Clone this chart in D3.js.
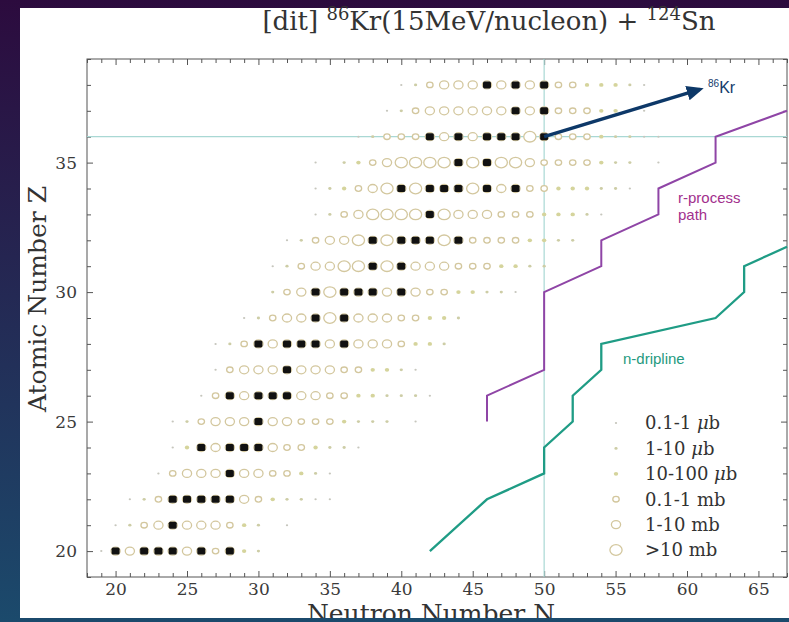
<!DOCTYPE html>
<meta charset="utf-8">
<style>
body { margin: 0; background: #1b4a6c; }
text { font-family: "DejaVu Serif", serif; fill: #333; }
.tick text { font-size: 17px; fill: #3a3a3a; }
.tick line { stroke: #555; }
.sans { font-family: "Liberation Sans", Arial, sans-serif; }
</style>
<body>
<script src="https://d3js.org/d3.v7.min.js"></script>
<script>

// ---- chart values ----
// one row of cross-section classes per Z, starting at firstN (null = no mark)
// class: 0 = 0.1-1 ub, 1 = 1-10 ub, 2 = 10-100 ub, 3 = 0.1-1 mb, 4 = 1-10 mb, 5 = >10 mb
var zValues = d3.range(20, 39);
var firstN = [19, 20, 21, 23, 24, 24, 26, 27, 27, 29, 31, 31, 32, 34, 34, 34, 37, 39, 40];
var xsClass = [
  [0,4,4,4,4,4,4,4,3,4,2,1],
  [0,1,3,4,4,4,4,4,3,2,1,null,0],
  [0,1,3,4,4,4,4,4,4,3,2,1,1,0,0],
  [0,3,4,4,4,4,4,4,3,3,2,1,0],
  [0,2,4,4,4,4,4,4,3,3,2,1,1,0],
  [0,1,3,4,4,4,4,4,4,3,3,3,2,1,1,1,null,0],
  [0,3,4,4,4,4,4,4,4,3,3,2,2,1,1,1,0],
  [0,3,4,4,4,4,4,4,4,3,3,2,2,1,0],
  [0,1,3,4,4,4,4,4,4,4,4,4,4,3,2,2,1],
  [0,1,3,4,4,4,5,4,4,4,4,3,3,2,2,1],
  [1,3,4,4,5,4,4,4,4,4,4,3,3,2,2,1,1,0],
  [0,1,3,4,4,5,5,4,5,4,4,4,4,3,3,3,2,2,1,1],
  [0,1,3,4,4,5,4,5,4,4,4,5,4,3,3,3,3,2,2,1,1],
  [0,1,3,4,5,5,5,5,4,5,4,4,4,3,3,3,2,2,2,1,0],
  [0,1,2,3,4,5,4,5,4,4,4,5,4,4,4,3,3,2,2,2,1,1,0],
  [0,null,1,2,3,4,5,5,5,5,4,5,4,5,5,4,3,3,3,3,2,1,1,null,0],
  [0,1,3,3,3,4,4,4,4,4,4,4,5,4,3,3,3,2,1,1,0,0],
  [0,1,3,4,4,4,4,4,4,4,4,4,3,3,3,2,2,1,0],
  [0,1,3,4,4,4,4,4,4,4,4,3,3,2,2,2,1,0]
];
// stable isotopes (black squares), neutron numbers per Z
var stableN = [
  [20,22,23,24,26,28], [24], [24,25,26,27,28], [28], [26,28,29,30], [30],
  [28,30,31,32], [32], [30,32,33,34,36], [34,36], [34,36,37,38,40], [38,40],
  [38,40,41,42,44], [42], [40,42,43,44,46,48], [44,46], [42,44,46,47,48,50],
  [48,50], [46,48,50]
];
var legendLabels = ["0.1-1 ", "1-10 ", "10-100 ", "0.1-1 mb", "1-10 mb", ">10 mb"];
var rProcess = [[46,25],[46,26],[50,27],[50,30],[54,31],[54,32],[58,33],[58,34],[62,35],[62,36],[67,37]];
var dripline = [[42,20],[46,22],[50,23],[50,24],[52,25],[52,26],[54,27],[54,28],[62,29],[64,30],[64,31],[67,31.75]];
var kr86 = [50, 36];
var arrowTip = [60.9, 37.83];
var magicN = 50, krZ = 36;

// ---- marker styles ----
var markR = [1, 1.4, 1.9, 2.8, 4, 5.3];
var markFill = ["#c6c6bd", "#cdcda6", "#d5d49c", "#fff", "#fff", "#fff"];
var ringColor = "#d3c79e";

var W = 789, H = 622;
var svg = d3.select("body").append("svg").attr("width", W).attr("height", H);
var defs = svg.append("defs");

// slide background
var grad = defs.append("linearGradient").attr("id", "bg")
    .attr("gradientUnits", "userSpaceOnUse")
    .attr("x1", 0).attr("y1", 0).attr("x2", 0).attr("y2", H);
grad.append("stop").attr("offset", "0%").attr("stop-color", "#2c0b3e");
grad.append("stop").attr("offset", "100%").attr("stop-color", "#1b4a6c");
svg.append("rect").attr("width", W).attr("height", H).attr("fill", "url(#bg)");
svg.append("rect").attr("x", 20).attr("y", 8).attr("width", W - 20).attr("height", 610).attr("fill", "#fff");

// scales
var x = d3.scaleLinear().domain([18, 67]).range([87, 787]);
var y = d3.scaleLinear().domain([19, 39]).range([577, 59]);

// axes, ticks inward on all four sides
function major(d) { return d % 5 === 0; }
var gB = svg.append("g").attr("transform", "translate(0," + y(19) + ")")
  .call(d3.axisBottom(x).tickValues(d3.range(18, 68)).tickSize(-4).tickPadding(6)
    .tickFormat(function(d) { return major(d) ? d : ""; }));
var gT = svg.append("g").attr("transform", "translate(0," + y(39) + ")")
  .call(d3.axisTop(x).tickValues(d3.range(18, 68)).tickSize(-4).tickFormat(""));
var gL = svg.append("g").attr("transform", "translate(" + x(18) + ",0)")
  .call(d3.axisLeft(y).tickValues(d3.range(19, 40)).tickSize(-4).tickPadding(10)
    .tickFormat(function(d) { return major(d) ? d : ""; }));
var gR = svg.append("g").attr("transform", "translate(" + x(67) + ",0)")
  .call(d3.axisRight(y).tickValues(d3.range(19, 40)).tickSize(-4).tickFormat(""));
[gB, gT, gL, gR].forEach(function(g) {
  g.select(".domain").remove();
  g.selectAll(".tick").filter(major).select("line")
    .attr(g === gB || g === gT ? "y2" : "x2", g === gB ? -6 : g === gT ? 6 : g === gL ? 6 : -6);
});

// frame
svg.append("rect").attr("x", x(18)).attr("y", y(39))
  .attr("width", x(67) - x(18)).attr("height", y(19) - y(39))
  .attr("fill", "none").attr("stroke", "#555");

// reference lines at Z=36 and N=50
svg.append("line").attr("x1", x(18)).attr("x2", x(67)).attr("y1", y(krZ)).attr("y2", y(krZ))
  .attr("stroke", "#a9d8d4").attr("stroke-width", 1.2);
svg.append("line").attr("x1", x(magicN)).attr("x2", x(magicN)).attr("y1", y(39)).attr("y2", y(19))
  .attr("stroke", "#a9d8d4").attr("stroke-width", 1.2);

// cross-section markers
var cells = [];
zValues.forEach(function(z, i) {
  xsClass[i].forEach(function(c, j) {
    if (c !== null) cells.push({N: firstN[i] + j, Z: z, c: c});
  });
});
svg.append("g").selectAll("ellipse").data(cells).enter().append("ellipse")
  .attr("cx", function(d) { return x(d.N); })
  .attr("cy", function(d) { return y(d.Z); })
  .attr("rx", function(d) { return markR[d.c] * 1.15; })
  .attr("ry", function(d) { return markR[d.c]; })
  .attr("fill", function(d) { return markFill[d.c]; })
  .attr("stroke", function(d) { return d.c >= 3 ? ringColor : "none"; })
  .attr("stroke-width", 1.3);

// stable isotopes
var stable = [];
zValues.forEach(function(z, i) { stableN[i].forEach(function(n) { stable.push({N: n, Z: z}); }); });
svg.append("g").selectAll("rect").data(stable).enter().append("rect")
  .attr("x", function(d) { return x(d.N) - 4; })
  .attr("y", function(d) { return y(d.Z) - 3.5; })
  .attr("width", 8).attr("height", 7).attr("rx", 1.6)
  .attr("fill", "#111");

// r-process path and neutron dripline
var line = d3.line().x(function(d) { return x(d[0]); }).y(function(d) { return y(d[1]); });
svg.append("path").datum(rProcess).attr("d", line)
  .attr("fill", "none").attr("stroke", "#8f45a6").attr("stroke-width", 2);
svg.append("path").datum(dripline).attr("d", line)
  .attr("fill", "none").attr("stroke", "#1f9c85").attr("stroke-width", 2.3);

svg.append("text").attr("class", "sans").attr("x", 678).attr("y", 203)
  .style("font-size", "15px").style("fill", "#a22f8d").text("r-process");
svg.append("text").attr("class", "sans").attr("x", 678).attr("y", 220)
  .style("font-size", "15px").style("fill", "#a22f8d").text("path");
svg.append("text").attr("class", "sans").attr("x", 623).attr("y", 364)
  .style("font-size", "15px").style("fill", "#1f9a80").text("n-dripline");

// arrow to 86Kr
defs.append("marker").attr("id", "head").attr("markerUnits", "userSpaceOnUse")
  .attr("markerWidth", 17).attr("markerHeight", 15).attr("refX", 13).attr("refY", 7.5)
  .attr("orient", "auto")
  .append("path").attr("d", "M0,0L17,7.5L0,15Z").attr("fill", "#0d3868");
svg.append("line")
  .attr("x1", x(kr86[0])).attr("y1", y(kr86[1]))
  .attr("x2", x(arrowTip[0])).attr("y2", y(arrowTip[1]))
  .attr("stroke", "#0d3868").attr("stroke-width", 3.5).attr("marker-end", "url(#head)");
var kr = svg.append("text").attr("class", "sans").attr("x", 708).attr("y", 93).style("fill", "#143c6c");
kr.append("tspan").style("font-size", "10px").attr("dy", -6).text("86");
kr.append("tspan").style("font-size", "16px").attr("dy", 6).text("Kr");

// legend
var legend = svg.append("g");
legendLabels.forEach(function(lab, i) {
  var ly = 423 + i * 25.4;
  legend.append("ellipse").attr("cx", 616).attr("cy", ly)
    .attr("rx", markR[i] * 1.15).attr("ry", markR[i])
    .attr("fill", markFill[i]).attr("stroke", i >= 3 ? ringColor : "none").attr("stroke-width", 1.3);
  var t = legend.append("text").attr("x", 645).attr("y", ly).attr("dy", "0.36em")
    .style("font-size", "18px");
  t.append("tspan").text(lab);
  if (i < 3) {
    t.append("tspan").style("font-style", "italic").text("μ");
    t.append("tspan").text("b");
  }
});

// title and axis labels
var title = svg.append("text").attr("x", 489).attr("y", 30).attr("text-anchor", "middle")
  .style("font-size", "26px");
title.append("tspan").text("[dit] ");
title.append("tspan").style("font-size", "18px").attr("dy", -10).text("86");
title.append("tspan").attr("dy", 10).text("Kr(15MeV/nucleon) + ");
title.append("tspan").style("font-size", "18px").attr("dy", -10).text("124");
title.append("tspan").attr("dy", 10).text("Sn");

svg.append("text").attr("x", 431).attr("y", 622).attr("text-anchor", "middle")
  .style("font-size", "25px").text("Neutron Number N");
svg.append("text").attr("transform", "translate(46,299) rotate(-90)").attr("text-anchor", "middle")
  .style("font-size", "25px").text("Atomic Number Z");

// slide edge covers the bottom of the x label
svg.append("rect").attr("x", 0).attr("y", 618).attr("width", W).attr("height", H - 618).attr("fill", "url(#bg)");

</script>
</body>
